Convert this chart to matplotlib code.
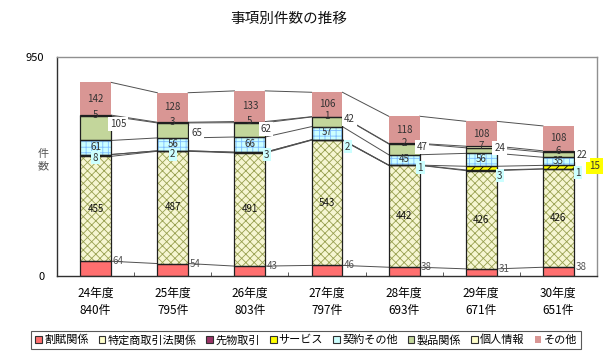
import matplotlib
matplotlib.use("Agg")
import matplotlib.pyplot as plt
from matplotlib.patches import Patch
import numpy as np

plt.rcParams['font.family'] = ['Noto Sans CJK JP', 'DejaVu Sans']
plt.rcParams['hatch.linewidth'] = 0.6

# ---------------- data ----------------
years = ["24年度", "25年度", "26年度", "27年度", "28年度", "29年度", "30年度"]
totals = [840, 795, 803, 797, 693, 671, 651]
series_names = ["割賦関係", "特定商取引法関係", "先物取引", "サービス",
                "契約その他", "製品関係", "個人情報", "その他"]
kappu = [64, 54, 43, 46, 38, 31, 38]
tokutei = [455, 487, 491, 543, 442, 426, 426]
sakimono = [8, 2, 3, 2, 1, 3, 1]
service = [0, 0, 0, 0, 0, 16, 15]
keiyaku = [61, 56, 66, 57, 45, 56, 35]
seihin = [105, 65, 62, 42, 47, 24, 22]
kojin = [5, 3, 5, 1, 2, 7, 6]
sonota = [142, 128, 133, 106, 118, 108, 108]

series = [kappu, tokutei, sakimono, service, keiyaku, seihin, kojin, sonota]

# ---------------- styles ----------------
face = ['#FF6F6F', '#F6F6D2', '#802050', '#FFFF00', '#CCFFFF', '#C3D69B', '#FFFFCC', '#D99694']
hatch = [None, 'xxxx', None, '////', '+++', None, None, None]
hatch_col = [None, '#98A050', None, '#000000', '#7FBFFF', None, None, None]
edge = ['#202020'] * 7 + ['none']
legend_face = ['#FF6F6F', '#FFFFCC', '#993366', '#FFFF00', '#CCFFFF', '#C3D69B', '#FFFFCC', '#D99694']
legend_edge = ['#303030'] * 7 + ['none']

# label offsets (positions only)
saki_dx = [0.0, 0.0, 0.22, 0.27, 0.21, 0.24, 0.25]
saki_dy = [-9, -13, -10, -30, -11, -24, -17]
seihin_dx = [0.29, 0.31, 0.21, 0.29, 0.23, 0.24, 0.31]
seihin_dy = [18, -11, 4, 12, 10, 11, -1]
service_label_at = {6: (0.47, 4)}

W = 0.4
txt_col = '#333333'

fig = plt.figure(figsize=(6.16, 3.57), dpi=100)
ax = fig.add_axes([57 / 616, 1 - 276 / 357, 540 / 616, 219 / 357])
x = np.arange(len(years))

data = np.array(series, dtype=float)
cum = np.cumsum(data, axis=0)
bottoms = np.vstack([np.zeros(len(years)), cum[:-1]])

for k in range(len(series)):
    ax.bar(x, data[k], W, bottom=bottoms[k], color=face[k], edgecolor='none', linewidth=0, zorder=2)
    if hatch[k]:
        ax.bar(x, data[k], W, bottom=bottoms[k], facecolor='none', edgecolor=hatch_col[k],
               hatch=hatch[k], linewidth=0, zorder=2.1)
    if edge[k] != 'none':
        ax.bar(x, data[k], W, bottom=bottoms[k], facecolor='none', edgecolor=edge[k],
               linewidth=0.9, zorder=2.2)

# series lines
for k in range(len(series)):
    for i in range(len(years) - 1):
        ax.plot([x[i] + W / 2, x[i + 1] - W / 2], [cum[k][i], cum[k][i + 1]],
                color='#505050', lw=0.7, zorder=1.5)

fs = 7
for i in range(len(years)):
    # 割賦
    ax.text(x[i] + W / 2 + 0.02, cum[0][i], str(kappu[i]), ha='left', va='center',
            fontsize=fs, color='#555555', zorder=5)
    # 特定商取引
    ax.text(x[i], bottoms[1][i] + tokutei[i] / 2, str(tokutei[i]), ha='center', va='center',
            fontsize=fs, color='#111111', zorder=5)
    # 先物
    ax.text(x[i] + saki_dx[i], bottoms[2][i] + sakimono[i] / 2 + saki_dy[i], str(sakimono[i]),
            ha='center', va='center', fontsize=fs, color=txt_col, zorder=6,
            bbox=dict(boxstyle='square,pad=0.15', fc='#CCFFFF', ec='none'))
    # サービス
    if i in service_label_at:
        dx, dy = service_label_at[i]
        ax.text(x[i] + dx, bottoms[3][i] + service[i] / 2 + dy, str(service[i]),
                ha='center', va='center', fontsize=fs, color=txt_col, zorder=6,
                bbox=dict(boxstyle='square,pad=0.3', fc='#FFFF00', ec='none'), clip_on=False)
    # 契約その他
    ax.text(x[i], bottoms[4][i] + keiyaku[i] / 2 + 3, str(keiyaku[i]), ha='center', va='center',
            fontsize=fs, color=txt_col, zorder=5)
    # 製品関係
    ax.text(x[i] + seihin_dx[i], bottoms[5][i] + seihin[i] / 2 + seihin_dy[i], str(seihin[i]),
            ha='center', va='center', fontsize=fs, color=txt_col, zorder=6,
            bbox=dict(boxstyle='square,pad=0.2', fc='white', ec='none'))
    # 個人情報
    ax.text(x[i], bottoms[6][i] + kojin[i] / 2 + 3, str(kojin[i]), ha='center', va='center',
            fontsize=fs, color=txt_col, zorder=5)
    # その他
    ax.text(x[i], bottoms[7][i] + sonota[i] / 2, str(sonota[i]), ha='center', va='center',
            fontsize=fs, color=txt_col, zorder=5)

ax.set_xlim(-0.5, len(years) - 0.5)
ax.set_ylim(0, 950)
ax.set_yticks([0, 950])
ax.set_yticklabels(["0", "950"], fontsize=8)
ax.tick_params(axis='y', length=0, pad=9)
ax.set_xticks(x)
ax.set_xticklabels([f"{y}\n{t}件" for y, t in zip(years, totals)], fontsize=8.5, linespacing=1.35)
ax.tick_params(axis='x', length=0, pad=8)
ax.set_xticks(np.arange(0.5, len(years) - 1, 1), minor=True)
ax.tick_params(axis='x', which='minor', direction='in', length=3, color='#404040')

for s in ['top', 'right']:
    ax.spines[s].set_color('#909090')
for s in ['left', 'bottom']:
    ax.spines[s].set_color('#303030')
for s in ax.spines.values():
    s.set_linewidth(1.0)

fig.text(43 / 616, 1 - 160 / 357, "件\n数", ha='center', va='center', fontsize=8,
         color='#555555', linespacing=1.3)
fig.text(289 / 616, 1 - 19 / 357, "事項別件数の推移", ha='center', va='center', fontsize=10.5,
         color='#111111')

handles = [Patch(facecolor=legend_face[k], edgecolor=legend_edge[k], linewidth=0.8)
           for k in range(len(series))]
leg = fig.legend(handles, series_names, loc='center', bbox_to_anchor=(306 / 616, 1 - 340 / 357),
                 ncol=8, fontsize=8, frameon=True, fancybox=False, handlelength=0.6,
                 handleheight=0.6, handletextpad=0.2, columnspacing=0.9, borderpad=0.35,
                 borderaxespad=0)
leg.get_frame().set_edgecolor('#303030')
leg.get_frame().set_linewidth(0.8)

fig.savefig("out.png", dpi=100)
